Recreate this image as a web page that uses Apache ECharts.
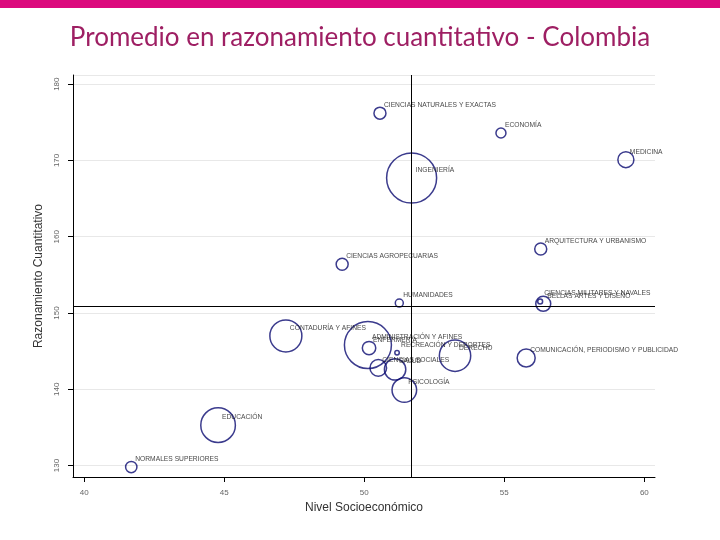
<!DOCTYPE html>
<html>
<head>
<meta charset="utf-8">
<script src="https://cdn.jsdelivr.net/npm/echarts@6/dist/echarts.min.js"></script>
<style>html,body{margin:0;padding:0;background:#fff;}#c{width:720px;height:540px;}</style>
</head>
<body>
<div id="c"></div>
<script>
const categories = [
  "CIENCIAS NATURALES Y EXACTAS", "ECONOMÍA", "MEDICINA", "INGENIERÍA",
  "ARQUITECTURA Y URBANISMO", "CIENCIAS AGROPECUARIAS", "HUMANIDADES",
  "CIENCIAS MILITARES Y NAVALES", "BELLAS ARTES Y DISEÑO", "CONTADURÍA Y AFINES",
  "ADMINISTRACIÓN Y AFINES", "ENFERMERÍA", "RECREACIÓN Y DEPORTES",
  "CIENCIAS SOCIALES", "SALUD", "DERECHO", "PSICOLOGÍA",
  "COMUNICACIÓN, PERIODISMO Y PUBLICIDAD", "EDUCACIÓN", "NORMALES SUPERIORES"
];
const nivelSocioeconomico = [50.56, 54.88, 59.34, 51.69, 56.30, 49.21, 51.25, 56.28, 56.39, 47.20,
  50.13, 50.17, 51.17, 50.50, 51.10, 53.24, 51.43, 55.78, 44.78, 41.68];
const razonamiento = [176.2, 173.6, 170.1, 167.7, 158.4, 156.4, 151.3, 151.5, 151.2, 147.0,
  145.8, 145.4, 144.8, 142.8, 142.6, 144.4, 139.9, 144.1, 135.3, 129.8];
const peso = [36, 25, 64, 625, 36, 36, 16, 6, 56, 256, 552, 45, 5, 69, 114, 246, 151, 81, 299, 32];
const promedioX = 51.67;
const promedioY = 150.9;
const xTicks = [40, 45, 50, 55, 60];
const yTicks = [130, 140, 150, 160, 170, 180];

const data = categories.map((n, i) => ({ name: n, value: [nivelSocioeconomico[i], razonamiento[i], peso[i]] }));

const chart = echarts.init(document.getElementById('c'));
chart.setOption({
  animation: false,
  backgroundColor: '#fff',
  title: {
    text: 'Promedio en razonamiento cuantitativo - Colombia',
    left: 'center', top: 20,
    textStyle: { fontFamily: 'Lato', fontSize: 26, fontWeight: 'normal', color: '#9e1f63' }
  },
  graphic: [{ type: 'rect', left: 0, top: 0, shape: { width: 720, height: 8 }, style: { fill: '#dc0a7d' } }],
  grid: { left: 73, right: 65, top: 75, bottom: 63 },
  xAxis: {
    type: 'value', min: 39.6, max: 60.38,
    name: 'Nivel Socioeconómico', nameLocation: 'middle', nameGap: 21,
    nameTextStyle: { fontFamily: 'Liberation Sans', fontSize: 12, color: '#333' },
    axisLine: { show: true, lineStyle: { color: '#000', width: 1 } },
    axisTick: { show: true, length: 5, lineStyle: { color: '#000' } },
    axisLabel: { showMinLabel: false, showMaxLabel: false, margin: 12, fontFamily: 'Liberation Sans', fontSize: 8, color: '#666',
      formatter: v => xTicks.includes(Math.round(v)) && Math.abs(v - Math.round(v)) < 1e-6 ? String(v) : '' },
    splitLine: { show: false }
  },
  yAxis: {
    type: 'value', min: 128.5, max: 181.2,
    name: 'Razonamiento Cuantitativo', nameLocation: 'middle', nameGap: 28, nameRotate: 90,
    nameTextStyle: { fontFamily: 'Liberation Sans', fontSize: 12, color: '#333' },
    axisLine: { show: true, lineStyle: { color: '#000', width: 1 } },
    axisTick: { show: true, length: 5, lineStyle: { color: '#000' } },
    axisLabel: { showMinLabel: false, showMaxLabel: false, rotate: 90, margin: 12, fontFamily: 'Liberation Sans', fontSize: 8, color: '#666',
      formatter: v => yTicks.includes(Math.round(v)) && Math.abs(v - Math.round(v)) < 1e-6 ? String(v) : '' },
    splitLine: { show: true, lineStyle: { color: '#e8e8e8', width: 1 } }
  },
  series: [{
    type: 'scatter',
    data: data,
    symbol: 'circle',
    symbolSize: v => 2 * Math.sqrt(v[2]),
    itemStyle: { color: 'rgba(0,0,0,0)', borderColor: '#0a0a70', borderWidth: 1.5 },
    label: {
      show: true, formatter: '{b}', position: 'inside', align: 'left', verticalAlign: 'middle',
      offset: [4, -8], fontFamily: 'Liberation Sans', fontSize: 6.7, color: '#111'
    },
    markLine: {
      silent: true, symbol: 'none', animation: false,
      label: { show: false },
      lineStyle: { color: '#000', type: 'solid', width: 1 },
      data: [{ xAxis: promedioX }, { yAxis: promedioY }]
    }
  }]
});
</script>
</body>
</html>
